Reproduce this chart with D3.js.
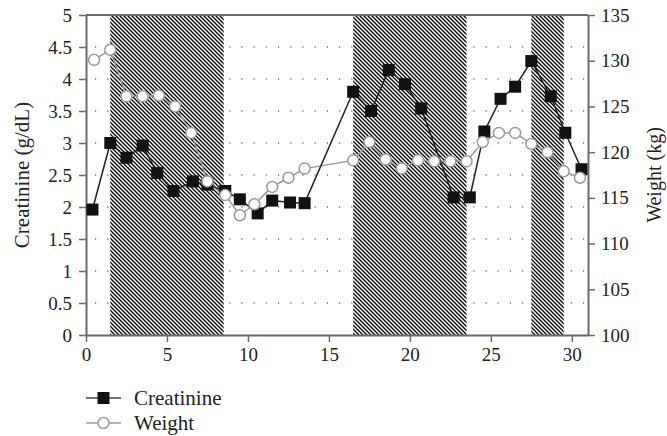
<!DOCTYPE html>
<html>
<head>
<meta charset="utf-8">
<script src="https://cdn.jsdelivr.net/npm/d3@7"></script>
<style>
  body { margin: 0; background: #fff; }
  svg { display: block; }
</style>
</head>
<body>
<div id="main"></div>
<script>
const width = 667, height = 436;
const margin = {top: 15, right: 79, bottom: 101, left: 86};

// shaded periods (days)
const shadeStart = [1.5, 16.5, 27.5];
const shadeEnd = [8.5, 23.5, 29.5];

// creatinine (g/dL)
const creatDay = [0.4, 1.5, 2.5, 3.5, 4.4, 5.4, 6.6, 7.5, 8.6, 9.5, 10.6, 11.5, 12.6, 13.5,
  16.5, 17.6, 18.7, 19.7, 20.7, 22.7, 23.7, 24.6, 25.6, 26.5, 27.5, 28.7, 29.6, 30.6];
const creatVal = [1.96, 3.0, 2.77, 2.96, 2.53, 2.25, 2.4, 2.35, 2.25, 2.12, 1.9, 2.1, 2.07, 2.06,
  3.8, 3.5, 4.14, 3.92, 3.54, 2.15, 2.15, 3.18, 3.69, 3.88, 4.28, 3.73, 3.16, 2.59];

// weight (kg)
const weightDay = [0.5, 1.5, 2.5, 3.5, 4.5, 5.5, 6.5, 7.5, 8.6, 9.5, 10.4, 11.5, 12.5, 13.5,
  16.5, 17.5, 18.5, 19.5, 20.5, 21.5, 22.5, 23.5, 24.5, 25.5, 26.5, 27.5, 28.5, 29.5, 30.5];
const weightVal = [130.1, 131.2, 126.1, 126.1, 126.2, 125.0, 122.1, 116.8, 115.3, 113.1, 114.3, 116.2, 117.2, 118.2,
  119.1, 121.1, 119.2, 118.2, 119.1, 119.0, 119.0, 119.0, 121.1, 122.1, 122.1, 120.9, 120.0, 117.9, 117.2];

const xTicks = [0, 5, 10, 15, 20, 25, 30];
const leftTicks = [0, 0.5, 1, 1.5, 2, 2.5, 3, 3.5, 4, 4.5, 5];
const rightTicks = [100, 105, 110, 115, 120, 125, 130, 135];

const font = "'Liberation Serif', 'DejaVu Serif', serif";
const axisColor = "#6b6b6b";

const svg = d3.select("#main").append("svg")
  .attr("width", width)
  .attr("height", height);

const x = d3.scaleLinear().domain([0, 31]).range([margin.left, width - margin.right]);
const yL = d3.scaleLinear().domain([0, 5]).range([height - margin.bottom, margin.top]);
const yR = d3.scaleLinear().domain([100, 135]).range([height - margin.bottom, margin.top]);

// hatch pattern
const defs = svg.append("defs");
const pat = defs.append("pattern")
  .attr("id", "hatch")
  .attr("patternUnits", "userSpaceOnUse")
  .attr("width", 4).attr("height", 4);
pat.append("rect").attr("width", 4).attr("height", 4).attr("fill", "#fff");
pat.append("path")
  .attr("d", "M-1,-1L5,5M3,-1L5,1M-1,3L1,5")
  .attr("stroke", "#000")
  .attr("stroke-width", 1.3);

// dotted grid
svg.append("g").selectAll("line")
  .data(leftTicks.filter(d => d > 0 && d < 5))
  .join("line")
  .attr("x1", x(0)).attr("x2", x(31))
  .attr("y1", d => yL(d)).attr("y2", d => yL(d))
  .attr("stroke", "#333")
  .attr("stroke-width", 1.2)
  .attr("stroke-dasharray", "1.2,11")
  .attr("stroke-dashoffset", -9);

// shaded bands
svg.append("g").selectAll("rect")
  .data(shadeStart)
  .join("rect")
  .attr("x", d => x(d))
  .attr("width", (d, i) => x(shadeEnd[i]) - x(d))
  .attr("y", yL(5))
  .attr("height", yL(0) - yL(5))
  .attr("fill", "url(#hatch)");

// frame top line
svg.append("line")
  .attr("x1", x(0)).attr("x2", x(31))
  .attr("y1", yL(5)).attr("y2", yL(5))
  .attr("stroke", axisColor).attr("stroke-width", 2);

function styleAxis(g) {
  g.select(".domain").attr("stroke", axisColor).attr("stroke-width", 2);
  g.selectAll(".tick line").attr("stroke", axisColor).attr("stroke-width", 1.5);
  g.selectAll("text").attr("font-family", font).attr("font-size", 19).attr("fill", "#222");
}

svg.append("g")
  .attr("transform", "translate(0," + yL(0) + ")")
  .call(d3.axisBottom(x).tickValues(xTicks).tickSize(7).tickPadding(6).tickSizeOuter(0))
  .call(styleAxis);

svg.append("g")
  .attr("transform", "translate(" + x(0) + ",0)")
  .call(d3.axisLeft(yL).tickValues(leftTicks).tickFormat(d3.format("")).tickSize(7).tickPadding(7).tickSizeOuter(0))
  .call(styleAxis);

svg.append("g")
  .attr("transform", "translate(" + x(31) + ",0)")
  .call(d3.axisRight(yR).tickValues(rightTicks).tickSize(7).tickPadding(6).tickSizeOuter(0))
  .call(styleAxis);

// axis titles
svg.append("text")
  .attr("transform", "translate(22," + yL(2.5) + ") rotate(-90)")
  .attr("text-anchor", "middle")
  .attr("dominant-baseline", "central")
  .attr("font-family", font).attr("font-size", 21).attr("fill", "#222")
  .text("Creatinine (g/dL)");

svg.append("text")
  .attr("transform", "translate(654," + yL(2.5) + ") rotate(-90)")
  .attr("text-anchor", "middle")
  .attr("dominant-baseline", "central")
  .attr("font-family", font).attr("font-size", 20).attr("fill", "#222")
  .text("Weight (kg)");

// weight series
const weightPts = weightDay.map((d, i) => [d, weightVal[i]]);
svg.append("path")
  .datum(weightPts)
  .attr("fill", "none")
  .attr("stroke", "#9a9a9a")
  .attr("stroke-width", 1.5)
  .attr("d", d3.line().x(d => x(d[0])).y(d => yR(d[1])));

// creatinine series
const creatPts = creatDay.map((d, i) => [d, creatVal[i]]);
svg.append("path")
  .datum(creatPts)
  .attr("fill", "none")
  .attr("stroke", "#222")
  .attr("stroke-width", 1.5)
  .attr("d", d3.line().x(d => x(d[0])).y(d => yL(d[1])));

svg.append("g").selectAll("rect")
  .data(creatPts)
  .join("rect")
  .attr("x", d => x(d[0]) - 6)
  .attr("y", d => yL(d[1]) - 6)
  .attr("width", 12).attr("height", 12)
  .attr("fill", "#111");

svg.append("g").selectAll("circle")
  .data(weightPts)
  .join("circle")
  .attr("cx", d => x(d[0]))
  .attr("cy", d => yR(d[1]))
  .attr("r", 5.5)
  .attr("fill", "#fff")
  .attr("stroke", "#9a9a9a")
  .attr("stroke-width", 1.5);

// legend
const legend = svg.append("g");
legend.append("line")
  .attr("x1", 86).attr("x2", 121).attr("y1", 398).attr("y2", 398)
  .attr("stroke", "#444").attr("stroke-width", 1.5);
legend.append("rect")
  .attr("x", 97.5).attr("y", 392).attr("width", 12).attr("height", 12)
  .attr("fill", "#111");
legend.append("text")
  .attr("x", 134).attr("y", 398)
  .attr("dominant-baseline", "central")
  .attr("font-family", font).attr("font-size", 21).attr("fill", "#222")
  .text("Creatinine");

legend.append("line")
  .attr("x1", 86).attr("x2", 121).attr("y1", 423).attr("y2", 423)
  .attr("stroke", "#9a9a9a").attr("stroke-width", 1.5);
legend.append("circle")
  .attr("cx", 103.5).attr("cy", 423).attr("r", 5.5)
  .attr("fill", "#fff").attr("stroke", "#9a9a9a").attr("stroke-width", 1.5);
legend.append("text")
  .attr("x", 134).attr("y", 423)
  .attr("dominant-baseline", "central")
  .attr("font-family", font).attr("font-size", 21).attr("fill", "#222")
  .text("Weight");
</script>
</body>
</html>
